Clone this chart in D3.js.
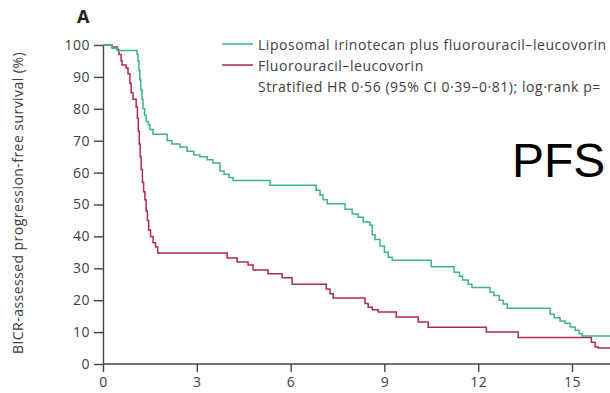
<!DOCTYPE html>
<html>
<head>
<meta charset="utf-8">
<script src="https://cdn.jsdelivr.net/npm/d3@7"></script>
<style>
html,body{margin:0;padding:0;background:#fff;}
svg{display:block;}
</style>
</head>
<body>
<svg id="chart" width="610" height="393"></svg>
<script>
// ---- Data (months, % progression-free) ----
const xTicks = [0, 3, 6, 9, 12, 15];
const yTicks = [0, 10, 20, 30, 40, 50, 60, 70, 80, 90, 100];

const liposomalTimes = [0, 0.29, 0.48, 1.09, 1.12, 1.15, 1.18, 1.21, 1.25, 1.28, 1.33, 1.38, 1.45, 1.5, 1.6,
  2.05, 2.2, 2.46, 2.69, 2.9, 3.1, 3.33, 3.52, 3.74, 3.87, 4.03, 4.16, 5.34, 6.82, 6.94, 7.04, 7.17,
  7.74, 7.97, 8.16, 8.32, 8.54, 8.61, 8.7, 8.86, 9.0, 9.12, 9.25, 10.5, 11.23, 11.4, 11.5, 11.68, 11.8,
  12.38, 12.5, 12.67, 12.8, 12.93, 14.3, 14.43, 14.62, 14.78, 14.94, 15.1, 15.23, 15.33, 16.4];
const liposomalSurv = [100, 99, 98.3, 97, 95, 92, 89, 86, 83, 80, 78, 76, 75, 73.5, 72,
  70, 69, 68, 66.7, 65.5, 65, 64, 63, 60.5, 59.5, 58.5, 57.5, 56, 54.5, 53, 51.5, 50.2,
  48.5, 47, 46, 44.5, 43.5, 40.5, 39, 37, 35, 33.5, 32.5, 30.5, 28.8, 27.5, 26.3, 25, 24,
  22.5, 21.5, 20, 18.8, 17.5, 15.6, 14.5, 13.5, 12.8, 11.6, 10.6, 9.5, 8.8, 8.8];

const fluoroTimes = [0, 0.29, 0.45, 0.51, 0.58, 0.61, 0.74, 0.8, 0.86, 0.9, 0.96, 1.06,
  1.1, 1.13, 1.16, 1.19, 1.22, 1.26, 1.3, 1.34, 1.38, 1.42, 1.46, 1.52, 1.6, 1.68, 1.75,
  3.97, 4.29, 4.64, 4.8, 5.28, 5.73, 6.05, 7.14, 7.26, 7.36, 8.38, 8.48, 8.61, 8.8, 9.38,
  10.08, 10.4, 12.26, 13.28, 15.62, 15.74, 15.84, 16.4];
const fluoroSurv = [100, 99.4, 98.4, 97, 95, 93.7, 92.8, 91, 88, 85, 83, 80.6,
  77, 73, 69, 65, 61, 57, 54, 51.5, 48, 45, 42, 40, 38, 36.7, 34.8,
  33.2, 32, 31, 29.5, 28.3, 27, 25, 23.5, 22, 20.7, 19, 17.8, 17, 16.3, 14.7,
  13.2, 11.5, 10, 8.3, 6.8, 5.3, 5, 5];

const legendLabels = [
  "Liposomal irinotecan plus fluorouracil–leucovorin",
  "Fluorouracil–leucovorin"
];
const statsLabel = "Stratified HR 0·56 (95% CI 0·39–0·81); log·rank p=";
const yLabel = "BICR-assessed progression-free survival (%)";
const panelLabel = "A";
const overlayLabel = "PFS";

const colors = {liposomal: "#3cb38e", fluoro: "#b0294f"};
const font = "'Open Sans', sans-serif";
const textColor = "#404040";

// ---- Scales ----
const svg = d3.select("#chart");
const x = d3.scaleLinear().domain([0, 15]).range([103, 572]);
const y = d3.scaleLinear().domain([0, 100]).range([364, 45]);

// ---- Axes ----
const gx = svg.append("g").attr("transform", `translate(0,${y(0)})`)
  .call(d3.axisBottom(x).tickValues(xTicks).tickSize(8).tickPadding(5).tickSizeOuter(0));
gx.select(".domain").attr("d", `M${x(0)},0H610`);
const gy = svg.append("g").attr("transform", `translate(${x(0)},0)`)
  .call(d3.axisLeft(y).tickValues(yTicks).tickSize(9).tickPadding(4).tickSizeOuter(0));

[gx, gy].forEach(g => {
  g.selectAll(".domain").attr("stroke", "#444").attr("stroke-width", 1.4);
  g.selectAll(".tick line").attr("stroke", "#444").attr("stroke-width", 1.4);
  g.selectAll(".tick text").attr("font-family", font).attr("font-size", 14)
    .attr("letter-spacing", "0.5px").attr("fill", textColor);
});

// ---- Curves ----
const line = d3.line().curve(d3.curveStepAfter).x(d => x(d[0])).y(d => y(d[1]));
svg.append("defs").append("clipPath").attr("id", "clip")
  .append("rect").attr("x", 0).attr("y", 0).attr("width", 610).attr("height", 393);

const fluoroData = d3.zip(fluoroTimes, fluoroSurv);
const lipoData = d3.zip(liposomalTimes, liposomalSurv);

svg.append("path").attr("d", line(fluoroData)).attr("fill", "none")
  .attr("stroke", colors.fluoro).attr("stroke-width", 1.5).attr("clip-path", "url(#clip)");
svg.append("path").attr("d", line(lipoData)).attr("fill", "none")
  .attr("stroke", colors.liposomal).attr("stroke-width", 1.5).attr("clip-path", "url(#clip)");

// ---- Legend ----
const legendColors = [colors.liposomal, colors.fluoro];
legendLabels.forEach((lab, i) => {
  const ly = 44 + i * 21;
  svg.append("line").attr("x1", 222).attr("x2", 253).attr("y1", ly).attr("y2", ly)
    .attr("stroke", legendColors[i]).attr("stroke-width", 1.5);
  svg.append("text").attr("x", 258).attr("y", ly + 6).text(lab)
    .attr("font-family", font).attr("font-size", 14).attr("letter-spacing", "0.55px").attr("fill", textColor);
});
svg.append("text").attr("x", 258).attr("y", 92).text(statsLabel)
  .attr("font-family", font).attr("font-size", 14).attr("letter-spacing", "0.55px").attr("fill", textColor);

// ---- Labels ----
svg.append("text").attr("transform", "translate(23,203) rotate(-90)")
  .attr("text-anchor", "middle").text(yLabel)
  .attr("font-family", font).attr("font-size", 14).attr("letter-spacing", "0.45px").attr("fill", textColor);

svg.append("text").attr("x", 77).attr("y", 23).text(panelLabel)
  .attr("font-family", font).attr("font-size", 18).attr("font-weight", "bold").attr("fill", "#222");

svg.append("text").attr("x", 512).attr("y", 177).text(overlayLabel)
  .attr("font-family", "'Liberation Sans', Arial, sans-serif").attr("font-size", 48).attr("fill", "#000");
</script>
</body>
</html>
